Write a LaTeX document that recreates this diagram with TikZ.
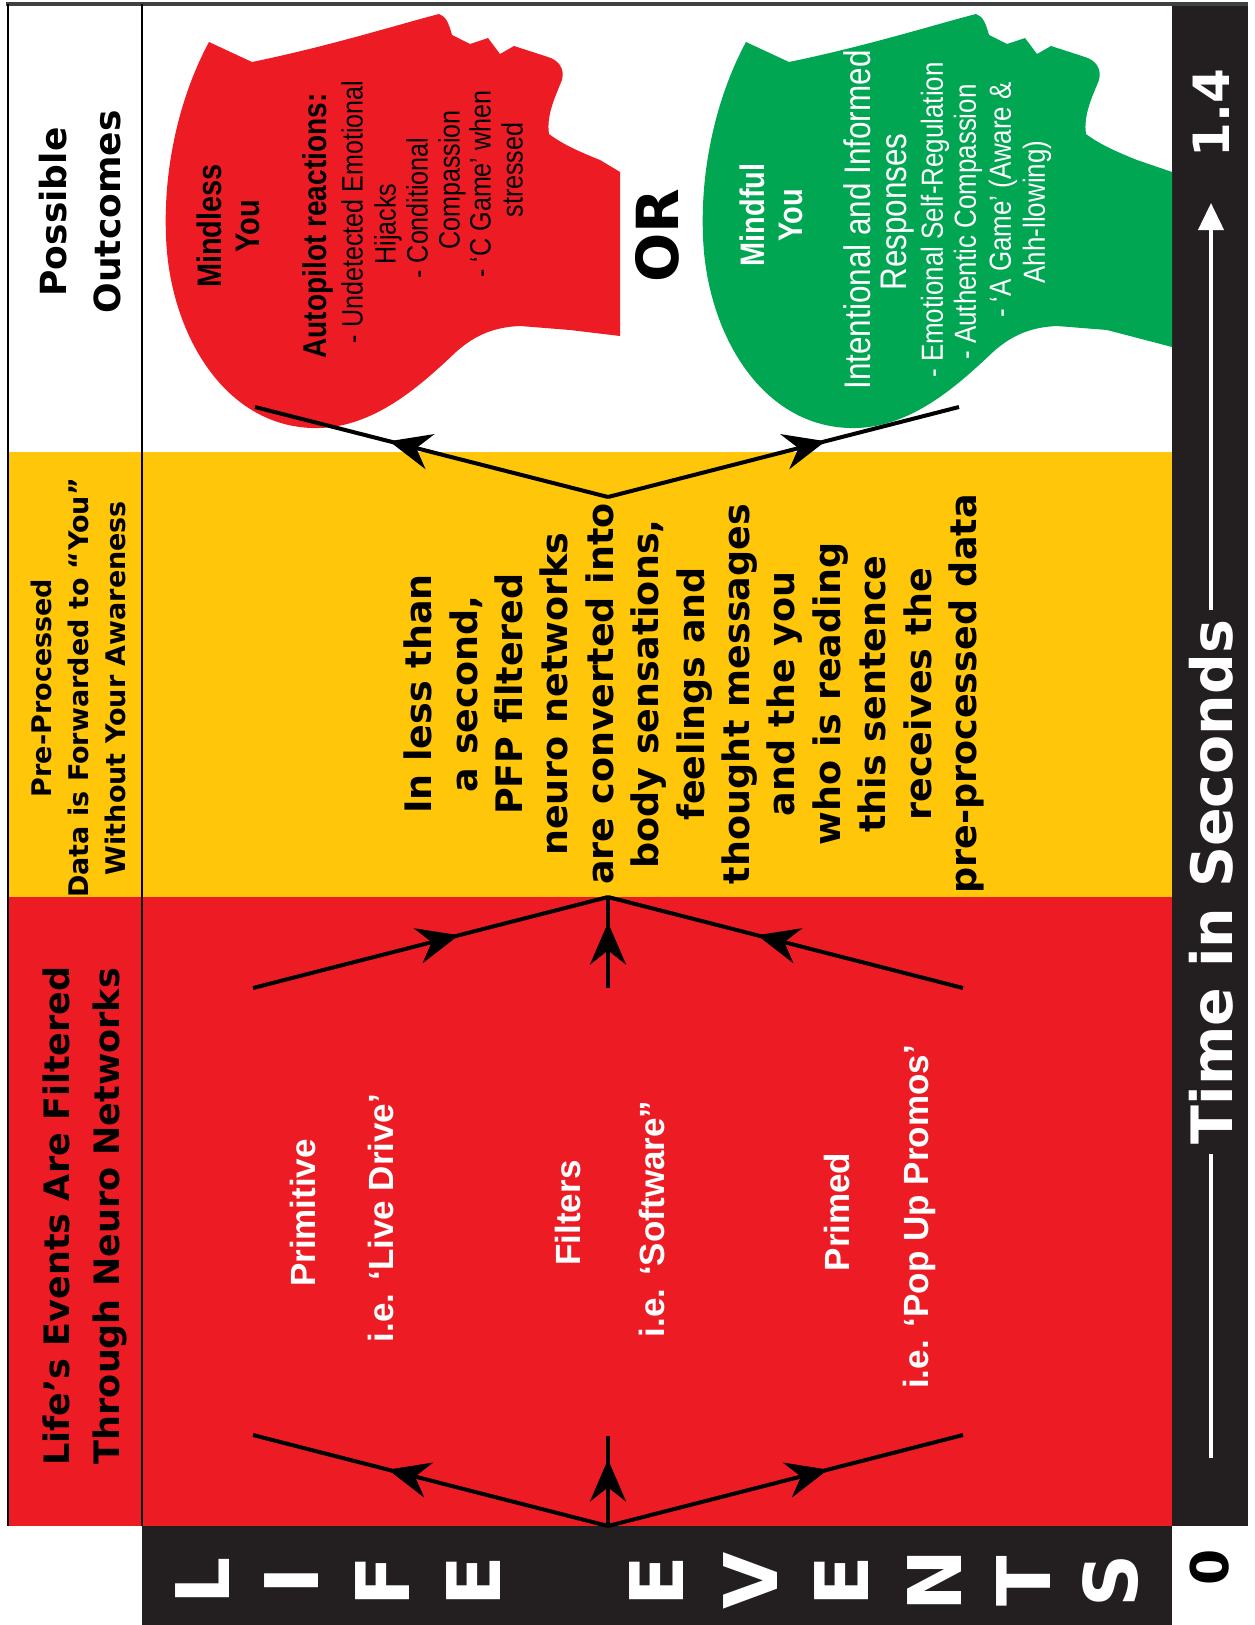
\documentclass[tikz,border=0pt]{standalone}
\usepackage{fontspec}
\setmainfont{Liberation Sans}
\newfontfamily\widefont{DejaVu Sans}
\newfontfamily\narrowfont[FakeStretch=0.85]{Liberation Sans}
\usetikzlibrary{arrows.meta,decorations.markings}

\definecolor{eventred}{RGB}{237,28,36}
\definecolor{preyellow}{RGB}{255,198,10}
\definecolor{mindgreen}{RGB}{0,166,81}
\definecolor{barblack}{RGB}{35,31,32}

% profile of a head, face up, neck running right; #1 = neck end, #2 = lower neck corner
\newcommand{\headoutline}[2]{(#1,172) -- (600,160)
  .. controls (580,152) and (562,144) .. (549,134)
  .. controls (546,115) and (556,95) .. (562,80)
  .. controls (565,68) and (558,60) .. (548,57)
  -- (514,46) -- (500,54) -- (488,38) -- (470,44) -- (452,35)
  .. controls (449,24) and (446,16) .. (439,14)
  .. controls (400,24) and (330,46) .. (252,62)
  -- (209,42)
  .. controls (183,90) and (163,160) .. (166,236)
  .. controls (169,330) and (222,425) .. (312,428)
  .. controls (372,430) and (420,386) .. (456,352)
  .. controls (476,334) and (496,327) .. (520,326)
  -- (570,330) -- (#1,#2) -- cycle}

\tikzset{
  upright/.style={rotate=90, align=center, inner sep=0pt},
  flow/.style={line width=4pt},
  midarrow/.style={postaction={decorate},
    decoration={markings, mark=at position #1 with {\arrow{Stealth[length=42pt,width=36pt,inset=14pt]}}}},
  filterlbl/.style={upright, text=white, font=\bfseries\fontsize{35}{40}\selectfont},
  headtitle/.style={upright, font=\narrowfont\bfseries\fontsize{34}{38}\selectfont},
  headitem/.style={upright, font=\narrowfont\fontsize{29.5}{32}\selectfont},
}

\begin{document}
\begin{tikzpicture}[x=1pt,y=-1pt]
\useasboundingbox (0,0) rectangle (1254,1625);

% colour bands
\fill[preyellow] (8,452) rectangle (1172,897);
\fill[eventred] (8,897) rectangle (1172,1526);
\fill[barblack] (1172,4) rectangle (1248,1526);
\fill[barblack] (142,1526) rectangle (1172,1625);

% frame and title column
\draw[line width=4pt,black!75] (6,4) -- (1248,4);
\draw[line width=2.5pt] (8,4) -- (8,1526);
\draw[line width=2.5pt] (142,4) -- (142,1526);

% the two heads
\fill[eventred] \headoutline{620}{336};
\begin{scope}[xshift=537pt]
  \fill[mindgreen] \headoutline{635}{347};
\end{scope}

% column titles
\node[upright, font=\widefont\bfseries\fontsize{36}{54}\selectfont] (hdrout) at (80,212) {Possible\\Outcomes};
\node[upright, font=\widefont\bfseries\fontsize{27}{37}\selectfont] (hdrpre) at (78,688) {Pre-Processed\\Data is Forwarded to “You”\\Without Your Awareness};
\node[upright, font=\widefont\bfseries\fontsize{35}{50}\selectfont] (hdrlife) at (85,1216) {Life’s Events Are Filtered\\Through Neuro Networks};

% filters
\node[filterlbl] (primitive) at (303,1213) {Primitive};
\node[filterlbl] (livedrive) at (381,1218) {i.e. ‘Live Drive’};
\node[filterlbl] (filters) at (568,1213) {Filters};
\node[filterlbl] (software) at (652,1219) {i.e. ‘Software”};
\node[filterlbl] (primed) at (837,1212) {Primed};
\node[filterlbl] (popup) at (919,1217) {i.e. ‘Pop Up Promos’};

% pre-processed data
\node[upright, font=\widefont\bfseries\fontsize{36.5}{45.4}\selectfont] (pfp) at (694,694)
  {In less than\\a second,\\PFP filtered\\neuro networks\\are converted into\\body sensations,\\feelings and\\thought messages\\and the you\\who is reading\\this sentence\\receives the\\pre-processed data};

% mindless you
\node[headtitle] (mindless) at (228,226) {Mindless\\You};
\node[headtitle, font=\narrowfont\bfseries\fontsize{33}{38}\selectfont] (autopilot) at (318,226) {Autopilot reactions:};
\foreach \txt/\px/\py [count=\i] in {{- Undetected Emotional}/352/212, Hijacks/388/224,
    {- Conditional}/417/208, Compassion/452/180, {- ‘C Game’ when}/480/184, stressed/512/170}
  \node[headitem] (reaction\i) at (\px,\py) {\txt};

\node[upright, font=\widefont\bfseries\fontsize{58}{64}\selectfont] (or) at (657,236) {OR};

% mindful you
\node[headtitle, text=white] (mindful) at (771,215) {Mindful\\You};
\node[headitem, text=white, font=\narrowfont\fontsize{37}{40}\selectfont] (intent) at (857,220) {Intentional and Informed};
\node[headitem, text=white, font=\narrowfont\fontsize{37}{40}\selectfont] (responses) at (898,212) {Responses};
\foreach \txt/\px/\py [count=\i] in {{- Emotional Self-Regulation}/935/220, {- Authentic Compassion}/968/222,
    {- ‘A Game’ (Aware \&}/1003/200, {Ahh-llowing)}/1037/212}
  \node[headitem, text=white, font=\narrowfont\fontsize{30.5}{34}\selectfont] (response\i) at (\px,\py) {\txt};

% life events
\foreach \ch/\px in {L/203, I/292, F/383, E/474, E/657, V/751, E/842, N/935, T/1024, S/1111}
  \node[upright, text=white, font=\widefont\bfseries\fontsize{74}{74}\selectfont] (ltr\px) at (\px,1581) {\ch};

% time axis
\node[upright, text=white, inner sep=10pt, font=\widefont\bfseries\fontsize{57}{60}\selectfont] (tlabel) at (1211,882) {Time in Seconds};
\node[upright, text=white, font=\widefont\bfseries\fontsize{50}{55}\selectfont] (tmax) at (1211,113) {1.4};
\node[upright, font=\widefont\bfseries\fontsize{52}{55}\selectfont] (tmin) at (1210,1567) {0};
\coordinate (tstart) at (1211,1458);
\coordinate (tend) at (1211,203);
\draw[line width=4pt, white] (tstart) -- (tlabel);
\draw[line width=4pt, white, -{Triangle[length=27pt,width=25pt]}] (tlabel) -- (tend);

% filtering paths
\coordinate (src) at (608,1526);
\coordinate (inL) at (253,1435);
\coordinate (inM) at (608,1436);
\coordinate (inR) at (963,1435);
\coordinate (outL) at (253,988);
\coordinate (outM) at (608,988);
\coordinate (outR) at (963,988);
\coordinate (merge) at (608,897);
\draw[flow, midarrow=0.62] (src) -- (inL);
\draw[flow, midarrow=0.74] (src) -- (inM);
\draw[flow, midarrow=0.62] (src) -- (inR);
\draw[flow, midarrow=0.58] (outL) -- (merge);
\draw[flow, midarrow=0.72] (outM) -- (merge);
\draw[flow, midarrow=0.58] (outR) -- (merge);

% forwarded to you
\coordinate (fork) at (608,497);
\coordinate (tomindless) at (255,407);
\coordinate (tomindful) at (959,407);
\draw[flow, midarrow=0.62] (fork) -- (tomindless);
\draw[flow, midarrow=0.62] (fork) -- (tomindful);
\end{tikzpicture}
\end{document}
